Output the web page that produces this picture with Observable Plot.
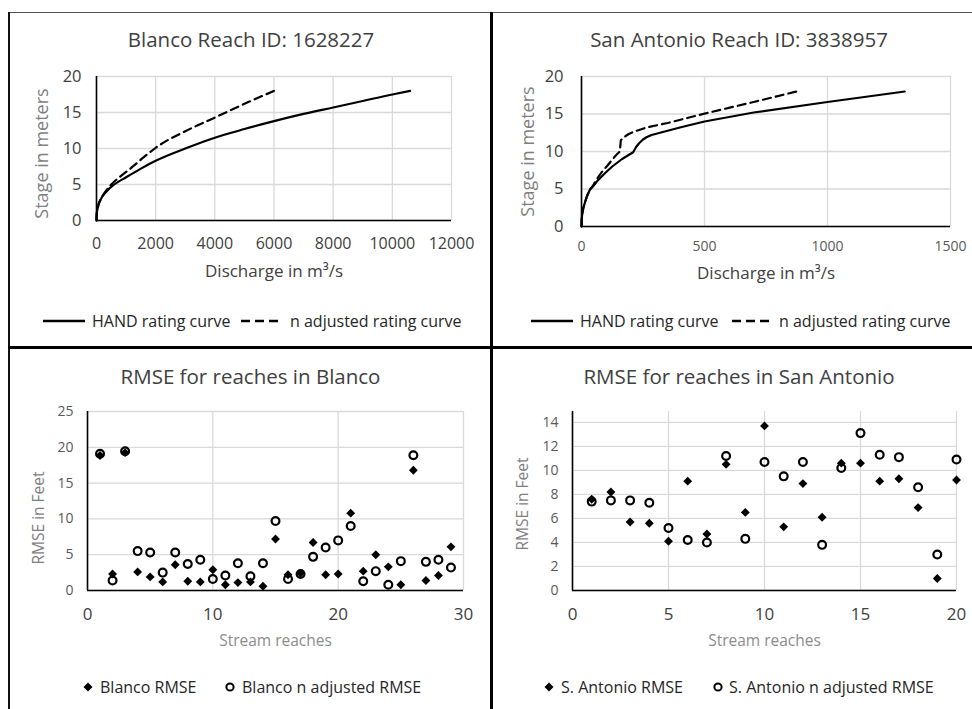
<!DOCTYPE html>
<html><head><meta charset="utf-8">
<script src="https://cdn.jsdelivr.net/npm/d3@7"></script>
<script src="https://cdn.jsdelivr.net/npm/@observablehq/plot@0.6"></script>
<style>
body{margin:0;background:#fff;}
#page{position:relative;width:972px;height:709px;overflow:hidden;font-family:"Open Sans",sans-serif;background:#fff}
.panel{position:absolute}
.panel svg{display:block;background:transparent;max-width:none}
.rule{position:absolute;background:#000}
.leg{position:absolute;white-space:nowrap;color:#262626;font-size:16px;line-height:20px;height:20px}
.sw{position:absolute}
</style></head><body><div id="page"></div>
<script>
// ---------- data ----------
// Blanco reach 1628227 rating curves (discharge m3/s, stage m)
const blancoHandQ     = [0, 5, 20, 60, 150, 330, 600, 1000, 1500, 2000, 3000, 4000, 5000, 6000, 7000, 8000, 9000, 10000, 10600];
const blancoHandStage = [0, 0.7, 1.3, 2.1, 3.0, 4.0, 5.0, 6.0, 7.2, 8.3, 10.0, 11.5, 12.7, 13.8, 14.8, 15.7, 16.6, 17.5, 18.0];
const blancoAdjQ      = [0, 5, 20, 60, 150, 300, 500, 800, 1200, 1600, 2000, 3000, 4000, 5000, 6000];
const blancoAdjStage  = [0, 0.7, 1.3, 2.1, 3.0, 4.0, 5.0, 6.1, 7.4, 8.8, 10.1, 12.4, 14.3, 16.2, 18.0];
// San Antonio reach 3838957 rating curves
const saHandQ     = [0, 1, 3, 7, 14, 23, 34, 48, 62, 92, 125, 165, 210, 222, 234, 250, 264, 285, 400, 500, 700, 1000, 1314];
const saHandStage = [0, 1, 1.7, 2.4, 3.2, 4.1, 4.9, 5.4, 6, 7, 8, 9, 9.9, 10.6, 11.1, 11.6, 11.9, 12.2, 13.2, 14.0, 15.2, 16.6, 18.0];
const saAdjQ      = [0, 1, 3, 7, 14, 23, 34, 48, 60, 81, 105, 122, 140, 156, 158, 160, 172, 190, 210, 264, 350, 494, 700, 874];
const saAdjStage  = [0, 1, 1.7, 2.4, 3.2, 4.1, 4.9, 5.5, 6.2, 7.2, 8.1, 8.8, 9.5, 10, 10.8, 11.5, 11.9, 12.3, 12.6, 13.2, 13.8, 15.0, 16.6, 18.0];
// RMSE (feet) per stream reach
const blancoReach = [1,2,3,4,5,6,7,8,9,10,11,12,13,14,15,16,17,18,19,20,21,22,23,24,25,26,27,28,29];
const blancoRmse  = [18.85, 2.3, 19.25, 2.6, 1.9, 1.2, 3.6, 1.3, 1.2, 2.9, 0.8, 1.1, 1.2, 0.6, 7.2, 2.2, 2.4, 6.7, 2.2, 2.3, 10.8, 2.7, 5.0, 3.3, 0.8, 16.8, 1.4, 2.1, 6.1];
const blancoAdj   = [19.1, 1.4, 19.45, 5.5, 5.3, 2.5, 5.3, 3.7, 4.3, 1.6, 2.1, 3.8, 2.0, 3.8, 9.7, 1.6, 2.3, 4.7, 6.0, 7.0, 9.0, 1.3, 2.7, 0.8, 4.1, 18.9, 4.0, 4.3, 3.2];
const saReach = [1,2,3,4,5,6,7,8,9,10,11,12,13,14,15,16,17,18,19,20];
const saRmse  = [7.6, 8.2, 5.7, 5.6, 4.1, 9.1, 4.7, 10.5, 6.5, 13.7, 5.3, 8.9, 6.1, 10.6, 10.6, 9.1, 9.3, 6.9, 1.0, 9.2];
const saAdj   = [7.4, 7.5, 7.5, 7.3, 5.2, 4.2, 4.0, 11.2, 4.3, 10.7, 9.5, 10.7, 3.8, 10.2, 13.1, 11.3, 11.1, 8.6, 3.0, 10.9];
// ticks
const blancoQTicks = [0, 2000, 4000, 6000, 8000, 10000, 12000];
const saQTicks     = [0, 500, 1000, 1500];
const stageTicks   = [0, 5, 10, 15, 20];
const blancoReachTicks = [0, 10, 20, 30];
const blancoRmseTicks  = [0, 5, 10, 15, 20, 25];
const saReachTicks = [0, 5, 10, 15, 20];
const saRmseTicks  = [0, 2, 4, 6, 8, 10, 12, 14];
// labels
const titles = ["Blanco Reach ID: 1628227", "San Antonio Reach ID: 3838957", "RMSE for reaches in Blanco", "RMSE for reaches in San Antonio"];
const curveLegend = ["HAND rating curve", "n adjusted rating curve"];
const blancoLegend = ["Blanco RMSE", "Blanco n adjusted RMSE"];
const saLegend = ["S. Antonio RMSE", "S. Antonio n adjusted RMSE"];

// ---------- helpers ----------
const FONT = '"Open Sans", sans-serif';
const GRID = "#d9d9d9";
const page = document.getElementById("page");
const zip2 = (xs, ys) => xs.map((x, i) => ({x, y: ys[i]}));

function place(svg, left, top) {
  const d = document.createElement("div");
  d.className = "panel";
  d.style.left = left + "px"; d.style.top = top + "px";
  d.appendChild(svg); page.appendChild(d);
}
function common(xTicks, yTicks, o) {
  return [
    Plot.gridX(xTicks, {stroke: GRID, strokeOpacity: 1, strokeWidth: 1.3}),
    Plot.gridY(yTicks, {stroke: GRID, strokeOpacity: 1, strokeWidth: 1.3}),
    Plot.ruleX([0], {stroke: "#000", strokeWidth: 1.6}),
    Plot.ruleY([0], {stroke: "#000", strokeWidth: 1.6}),
    Plot.axisX(xTicks, {tickSize: 0, tickPadding: o.xPad, fontSize: o.xFont, fill: o.xFill, label: null, tickFormat: "d"}),
    Plot.axisY(yTicks, {tickSize: 0, tickPadding: o.yPad, fontSize: o.yFont, fill: o.yFill, label: null, tickFormat: "d"}),
    Plot.text([o.title], {frameAnchor: "top", textAnchor: "middle", lineAnchor: "middle", dx: o.tdx, dy: o.tdy, fontSize: 20.5, fill: "#404040"}),
    Plot.text([o.ylab], {frameAnchor: "left", textAnchor: "middle", lineAnchor: "middle", rotate: -90, dx: o.ydx, dy: o.ydy, fontSize: o.ylabFont, fill: o.ylabFill}),
    Plot.text([o.xlab], {frameAnchor: "bottom", textAnchor: "middle", lineAnchor: "middle", dy: o.xdy, fontSize: o.xlabFont, fill: o.xlabFill})
  ];
}

// ---------- top-left: Blanco rating curves ----------
place(Plot.plot({
  width: 486, height: 300, marginLeft: 96, marginRight: 35, marginTop: 76, marginBottom: 80,
  style: {fontFamily: FONT, background: "transparent", overflow: "visible"},
  x: {domain: [0, 12000]}, y: {domain: [0, 20]},
  marks: [
    ...common(blancoQTicks, stageTicks, {xPad: 17, xFont: 16, xFill: "#404040", yPad: 15, yFont: 16.5, yFill: "#404040",
      title: titles[0], tdx: -23, tdy: -36, ylab: "Stage in meters", ydx: -54, ydy: 5, ylabFont: 18, ylabFill: "#7f7f7f",
      xlab: "Discharge in m³/s", xdy: 51, xlabFont: 17, xlabFill: "#404040"}),
    Plot.line(zip2(blancoHandQ, blancoHandStage), {x: "x", y: "y", curve: "monotone-x", stroke: "#000", strokeWidth: 2.2}),
    Plot.line(zip2(blancoAdjQ, blancoAdjStage), {x: "x", y: "y", curve: "monotone-x", stroke: "#000", strokeWidth: 2.2, strokeDasharray: "8 5"})
  ]
}), 0, 0);

// ---------- top-right: San Antonio rating curves ----------
place(Plot.plot({
  width: 486, height: 300, marginLeft: 95, marginRight: 22, marginTop: 76, marginBottom: 74,
  style: {fontFamily: FONT, background: "transparent", overflow: "visible"},
  x: {domain: [0, 1500]}, y: {domain: [0, 20]},
  marks: [
    ...common(saQTicks, stageTicks, {xPad: 15, xFont: 14, xFill: "#595959", yPad: 18, yFont: 16.5, yFill: "#404040",
      title: titles[1], tdx: -27, tdy: -36, ylab: "Stage in meters", ydx: -53, ydy: 0, ylabFont: 18, ylabFill: "#7f7f7f",
      xlab: "Discharge in m³/s", xdy: 47, xlabFont: 17, xlabFill: "#404040"}),
    Plot.line(zip2(saHandQ, saHandStage), {x: "x", y: "y", curve: "linear", stroke: "#000", strokeWidth: 2.2}),
    Plot.line(zip2(saAdjQ, saAdjStage), {x: "x", y: "y", curve: "linear", stroke: "#000", strokeWidth: 2.2, strokeDasharray: "8 5"})
  ]
}), 486, 0);

// ---------- bottom-left: Blanco RMSE ----------
place(Plot.plot({
  width: 486, height: 300, marginLeft: 87, marginRight: 23, marginTop: 56, marginBottom: 65,
  style: {fontFamily: FONT, background: "transparent", overflow: "visible"},
  x: {domain: [0, 30]}, y: {domain: [0, 25]},
  marks: [
    ...common(blancoReachTicks, blancoRmseTicks, {xPad: 17, xFont: 17, xFill: "#404040", yPad: 14, yFont: 14, yFill: "#595959",
      title: titles[2], tdx: -25, tdy: -34.5, ylab: "RMSE in Feet", ydx: -48, ydy: 17, ylabFont: 15.5, ylabFill: "#7f7f7f",
      xlab: "Stream reaches", xdy: 51, xlabFont: 15.5, xlabFill: "#8c8c8c"}),
    Plot.dot(zip2(blancoReach, blancoRmse), {x: "x", y: "y", symbol: "diamond2", r: 4, fill: "#000", stroke: "none"}),
    Plot.dot(zip2(blancoReach, blancoAdj), {x: "x", y: "y", symbol: "circle", r: 3.9, fill: "none", stroke: "#000", strokeWidth: 2.2})
  ]
}), 0, 355);

// ---------- bottom-right: San Antonio RMSE ----------
place(Plot.plot({
  width: 486, height: 300, marginLeft: 86, marginRight: 16, marginTop: 56, marginBottom: 65,
  style: {fontFamily: FONT, background: "transparent", overflow: "visible"},
  x: {domain: [0, 20]}, y: {domain: [0, 14.9]},
  marks: [
    ...common(saReachTicks, saRmseTicks, {xPad: 17, xFont: 17, xFill: "#404040", yPad: 14, yFont: 14, yFill: "#595959",
      title: titles[3], tdx: -25.5, tdy: -34.5, ylab: "RMSE in Feet", ydx: -49, ydy: 3, ylabFont: 15.5, ylabFill: "#7f7f7f",
      xlab: "Stream reaches", xdy: 51, xlabFont: 15.5, xlabFill: "#8c8c8c"}),
    Plot.dot(zip2(saReach, saRmse), {x: "x", y: "y", symbol: "diamond2", r: 4, fill: "#000", stroke: "none"}),
    Plot.dot(zip2(saReach, saAdj), {x: "x", y: "y", symbol: "circle", r: 3.9, fill: "none", stroke: "#000", strokeWidth: 2.2})
  ]
}), 486, 355);

// ---------- legends ----------
function legText(txt, x, cy) {
  const d = document.createElement("div");
  d.className = "leg"; d.textContent = txt;
  d.style.left = x + "px"; d.style.top = (cy - 10) + "px";
  page.appendChild(d);
}
function swatch(html, x, cy, w, h) {
  const d = document.createElement("div");
  d.className = "sw";
  d.style.left = x + "px"; d.style.top = (cy - h / 2) + "px";
  d.innerHTML = `<svg width="${w}" height="${h}" style="display:block">${html}</svg>`;
  page.appendChild(d);
}
const solidSw = `<line x1="0" y1="5" x2="42" y2="5" stroke="#000" stroke-width="2.4"/>`;
const dashSw = `<line x1="0" y1="5" x2="42" y2="5" stroke="#000" stroke-width="2.4" stroke-dasharray="9 5"/>`;
const diaSw = `<path d="M5,0.5L9.5,5L5,9.5L0.5,5Z" fill="#000"/>`;
const cirSw = `<circle cx="5" cy="5" r="3.6" fill="none" stroke="#000" stroke-width="2"/>`;
// top-left
swatch(solidSw, 43, 321, 42, 10); legText(curveLegend[0], 92, 321);
swatch(dashSw, 241, 321, 42, 10); legText(curveLegend[1], 290, 321);
// top-right
swatch(solidSw, 531, 321, 42, 10); legText(curveLegend[0], 580, 321);
swatch(dashSw, 732, 321, 42, 10); legText(curveLegend[1], 779, 321);
// bottom-left
swatch(diaSw, 83, 687, 10, 10); legText(blancoLegend[0], 100, 687);
swatch(cirSw, 225, 687, 10, 10); legText(blancoLegend[1], 242, 687);
// bottom-right
swatch(diaSw, 544, 687, 10, 10); legText(saLegend[0], 561, 687);
swatch(cirSw, 713, 687, 10, 10); legText(saLegend[1], 729, 687);

// ---------- panel frame ----------
function rule(l, t, w, h, c) {
  const d = document.createElement("div");
  d.className = "rule";
  Object.assign(d.style, {left: l + "px", top: t + "px", width: w + "px", height: h + "px", background: c});
  page.appendChild(d);
}
rule(8, 12, 964, 1, "#555");
rule(8, 12, 2, 697, "#111");
rule(490, 12, 3, 697, "#000");
rule(8, 346, 964, 3, "#000");
</script>
</body></html>
